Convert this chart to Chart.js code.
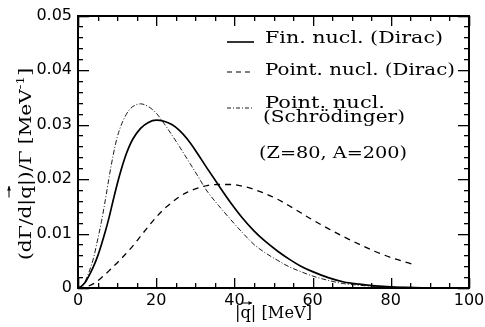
<!DOCTYPE html>
<html><head><meta charset="utf-8">
<script src="https://cdn.jsdelivr.net/npm/chart.js@4/dist/chart.umd.min.js"></script>
<style>html,body{margin:0;padding:0;background:#fff}#wrap{width:485px;height:327px;position:relative}</style>
</head><body><div id="wrap"><canvas id="c" width="485" height="327"></canvas></div>
<script>
// Data
const qFull = [0,1,2,3,4,5,6,7,8,9,10,11,12,13,14,16,18,20,22,24,26,28,30,33,36,39,42,45,48,51,54,57,60,64,68,72,76,80,84,88,92,96,100];
const finDirac = [0,0.0004,0.0012,0.0025,0.004,0.0058,0.008,0.0104,0.0131,0.0161,0.0190,0.0216,0.0239,0.0258,0.0273,
  0.0293,0.0304,0.0308,0.0306,0.0300,0.0289,0.0273,0.0253,
  0.0220,0.0188,0.0157,0.0129,0.0105,0.0085,0.0068,0.0053,0.0040,0.0030,
  0.0019,0.0011,0.0007,0.0004,0.0002,0.0001,0.00005,0.00003,0.00001,0];
const pointSchrod = [0,0.0004,0.0015,0.0033,0.0056,0.0088,0.0122,0.0162,0.0205,0.0244,0.0276,0.0298,0.0314,0.0326,0.0333,
  0.0338,0.0333,0.0321,0.0302,0.0281,0.0259,0.0236,0.0213,
  0.0178,0.0151,0.0126,0.0102,0.0080,0.0064,0.0051,0.0039,0.0030,0.0022,
  0.0014,0.0008,0.0005,0.0003,0.0002,0.0001,0.00005,0.00002,0.00001,0];
const qPoint = [0,2,4,6,8,10,12,14,16,18,20,22,24,26,28,30,33,36,39,42,45,48,51,54,57,60,64,68,72,76,80,84,86];
const pointDirac = [0,0.0002,0.0008,0.0019,0.0032,0.0046,0.0061,0.0077,0.0095,0.0113,0.0130,0.0145,0.0157,0.0168,0.0176,0.0182,
  0.0188,0.0190,0.0190,0.0187,0.0181,0.0173,0.0163,0.0151,0.0138,0.0125,
  0.0109,0.0094,0.0080,0.0067,0.0056,0.0047,0.0043];
const legendLabels = ["Fin. nucl. (Dirac)", "Point. nucl. (Dirac)", "Point. nucl.", "(Schrödinger)"];
const noteText = "(Z=80, A=200)";
const xTicks = [0,20,40,60,80,100];
const yTicks = [0,0.01,0.02,0.03,0.04,0.05];

const pts = (xs, ys) => xs.map((x,i)=>({x:x,y:ys[i]}));

const serif = '"DejaVu Serif", "Liberation Serif", serif';
const sans = '"DejaVu Sans", "Liberation Sans", sans-serif';

function fitText(ctx, txt, x, y, w, size){
  ctx.save();
  ctx.font = size + 'px ' + serif;
  const m = ctx.measureText(txt).width;
  ctx.translate(x, y);
  ctx.scale(w/m, 1);
  ctx.textAlign='left'; ctx.textBaseline='alphabetic';
  ctx.fillText(txt, 0, 0);
  ctx.restore();
}

function arrow(ctx, x1, y1, x2, y2){
  ctx.beginPath(); ctx.moveTo(x1,y1); ctx.lineTo(x2,y2); ctx.stroke();
  const a = Math.atan2(y2-y1, x2-x1), h=4;
  ctx.beginPath();
  ctx.moveTo(x2,y2);
  ctx.lineTo(x2 - h*Math.cos(a-0.5), y2 - h*Math.sin(a-0.5));
  ctx.lineTo(x2 - h*Math.cos(a+0.5), y2 - h*Math.sin(a+0.5));
  ctx.closePath(); ctx.fill();
}

const framePlugin = {
  id:'frame',
  afterDraw(chart){
    const ctx = chart.ctx, a = chart.chartArea;
    const xs = chart.scales.x, ys = chart.scales.y;
    ctx.save();
    ctx.fillStyle='#000';
    // frame
    const fl = Math.round(a.left), fr = Math.round(a.right), ft = Math.round(a.top), fb = Math.round(a.bottom);
    ctx.fillRect(fl-1, ft-1, fr-fl+2, 2);
    ctx.fillRect(fl-1, fb-1, fr-fl+2, 2);
    ctx.fillRect(fl-1, ft-1, 2, fb-ft+2);
    ctx.fillRect(fr-1, ft-1, 2, fb-ft+2);
    // ticks
    for(let v=0; v<=100; v+=5){
      const px = Math.round(xs.getPixelForValue(v));
      const L = (v%20===0)?10:5;
      ctx.fillRect(px, fb-L, 1.3, L);
      ctx.fillRect(px, ft, 1.3, L);
    }
    for(let k=0; k<=25; k++){
      const py = Math.round(ys.getPixelForValue(k*0.002));
      const L = (k%5===0)?11:5;
      ctx.fillRect(fl, py, L, 1.3);
      ctx.fillRect(fr-L, py, L, 1.3);
    }

    ctx.strokeStyle='#000';
    // Legend
    const lx1=227, lx2=254;
    ctx.lineWidth=1.6; ctx.setLineDash([]);
    ctx.beginPath(); ctx.moveTo(lx1,42); ctx.lineTo(lx2,42); ctx.stroke();
    ctx.lineWidth=1.2; ctx.setLineDash([5,4]);
    ctx.beginPath(); ctx.moveTo(lx1,72); ctx.lineTo(lx2,72); ctx.stroke();
    ctx.lineWidth=0.9; ctx.setLineDash([4,2,1,2]);
    ctx.beginPath(); ctx.moveTo(lx1,108); ctx.lineTo(lx2,108); ctx.stroke();
    ctx.setLineDash([]);
    fitText(ctx, legendLabels[0], 265, 43, 178, 17);
    fitText(ctx, legendLabels[1], 265, 75, 190, 17);
    fitText(ctx, legendLabels[2], 265, 108, 120, 17);
    fitText(ctx, legendLabels[3], 263, 122, 142, 17);
    fitText(ctx, noteText, 259, 158, 148, 16);

    // X title: |q| [MeV]
    ctx.font = '16px ' + serif;
    ctx.textBaseline='alphabetic'; ctx.textAlign='left';
    const xt = '|q| [MeV]';
    const xw = ctx.measureText(xt).width;
    ctx.save(); ctx.translate(235, 318); ctx.scale(77/xw,1); ctx.fillText(xt,0,0); ctx.restore();
    ctx.lineWidth=1;
    arrow(ctx, 242, 303, 252, 303);

    // Y title
    ctx.save();
    ctx.translate(31, 260);
    ctx.rotate(-Math.PI/2);
    const parts = ['(dΓ/d|', 'q', '|)/Γ [MeV'];
    ctx.font = '16px ' + serif;
    const sup = '-1';
    let w0 = ctx.measureText(parts[0]).width, wq = ctx.measureText('q').width, w2 = ctx.measureText(parts[2]).width;
    ctx.font = '11px ' + serif;
    const ws = ctx.measureText(sup).width;
    ctx.font = '16px ' + serif;
    const wb = ctx.measureText(']').width;
    const tot = w0+wq+w2+ws+wb;
    const sc = 192/tot;
    ctx.scale(sc,1);
    let x=0;
    ctx.fillText(parts[0], x, 0); x+=w0;
    ctx.fillText('q', x, 0); const qx = x; x+=wq;
    ctx.fillText(parts[2], x, 0); x+=w2;
    ctx.font = '11px ' + serif;
    ctx.fillText(sup, x, -7); x+=ws;
    ctx.font = '16px ' + serif;
    ctx.fillText(']', x, 0);
    ctx.lineWidth=1;
    arrow(ctx, qx+1, -22, qx+wq, -22);
    ctx.restore();
    ctx.restore();
  }
};

new Chart(document.getElementById('c'), {
  type:'line',
  data:{datasets:[
    {label:legendLabels[0], data:pts(qFull, finDirac), borderColor:'#000', borderWidth:1.7, pointRadius:0, cubicInterpolationMode:'monotone', fill:false},
    {label:legendLabels[1], data:pts(qPoint, pointDirac), borderColor:'#000', borderWidth:1.3, borderDash:[6,5], pointRadius:0, cubicInterpolationMode:'monotone', fill:false},
    {label:'Point. nucl. (Schrödinger)', data:pts(qFull, pointSchrod), borderColor:'#000', borderWidth:0.9, borderDash:[5,2,1,2], pointRadius:0, cubicInterpolationMode:'monotone', fill:false}
  ]},
  options:{
    responsive:false, animation:false,
    layout:{padding:{top:15,right:16,left:0,bottom:0}},
    plugins:{legend:{display:false}, tooltip:{enabled:false}},
    scales:{
      x:{type:'linear', min:0, max:100,
        afterFit(s){ s.height=39; s.paddingRight=0; s.paddingLeft=0; },
        afterBuildTicks(s){ s.ticks = xTicks.map(v=>({value:v})); },
        grid:{display:false, drawTicks:false}, border:{display:false},
        ticks:{color:'#000', font:{family:sans, size:16}, padding:3, maxRotation:0,
          callback:(v)=>String(v)}},
      y:{type:'linear', min:0, max:0.05,
        afterFit(s){ s.width=78; },
        afterBuildTicks(s){ s.ticks = yTicks.map(v=>({value:v})); },
        grid:{display:false, drawTicks:false}, border:{display:false},
        ticks:{color:'#000', font:{family:sans, size:16}, padding:6,
          callback:(v)=> v===0 ? '0' : v.toFixed(2)}}
    }
  },
  plugins:[framePlugin]
});
</script></body></html>
